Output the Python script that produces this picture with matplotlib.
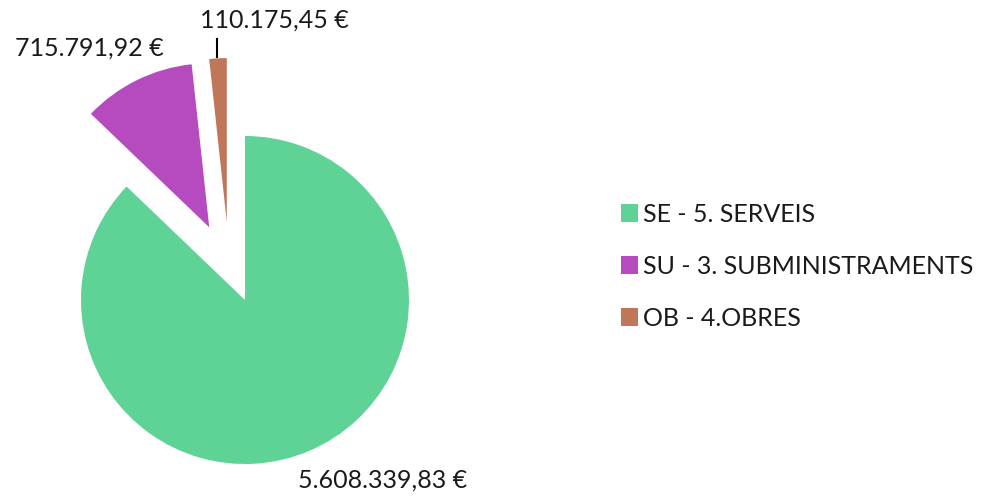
import matplotlib
matplotlib.use("Agg")
import matplotlib.pyplot as plt

categories = ["SE - 5. SERVEIS", "SU - 3. SUBMINISTRAMENTS", "OB - 4.OBRES"]
values = [5608339.83, 715791.92, 110175.45]
value_labels = ["5.608.339,83 €", "715.791,92 €", "110.175,45 €"]
colors = ["#5FD396", "#B64BBF", "#C07658"]

plt.rcParams['font.family'] = ['Lato', 'DejaVu Sans']

W, H = 984, 497
fig = plt.figure(figsize=(W / 100, H / 100), dpi=100)
ax = fig.add_axes([0, 0, 1, 1])

cx, cy, r = 245, H - 300, 164
wedges, _ = ax.pie(values, colors=colors, startangle=90, counterclock=False,
                   explode=[0, 81, 78], radius=r, center=(cx, cy),
                   wedgeprops=dict(linewidth=0))
# Fine-tune the small exploded slice position
c = wedges[2].center
wedges[2].set_center((c[0] - 14, c[1]))

ax.set_xlim(0, W)
ax.set_ylim(0, H)
ax.set_aspect('equal')
ax.axis('off')

fs = 18
tc = '#1a1a1a'
ax.text(383, H - 480, value_labels[0], fontsize=fs, ha='center', va='center', color=tc)
ax.text(89, H - 48, value_labels[1], fontsize=fs, ha='center', va='center', color=tc)
ax.text(274, H - 20, value_labels[2], fontsize=fs, ha='center', va='center', color=tc)
ax.plot([217, 217], [H - 39, H - 57], color='black', linewidth=1.5)

leg = ax.legend(wedges, categories, loc='upper left', bbox_to_anchor=(598, H - 180),
                bbox_transform=ax.transData, frameon=False, fontsize=fs,
                handlelength=0.7, handleheight=0.7, handletextpad=0.2,
                labelspacing=1.16)
for t in leg.get_texts():
    t.set_color(tc)

fig.savefig("out.png", dpi=100)
